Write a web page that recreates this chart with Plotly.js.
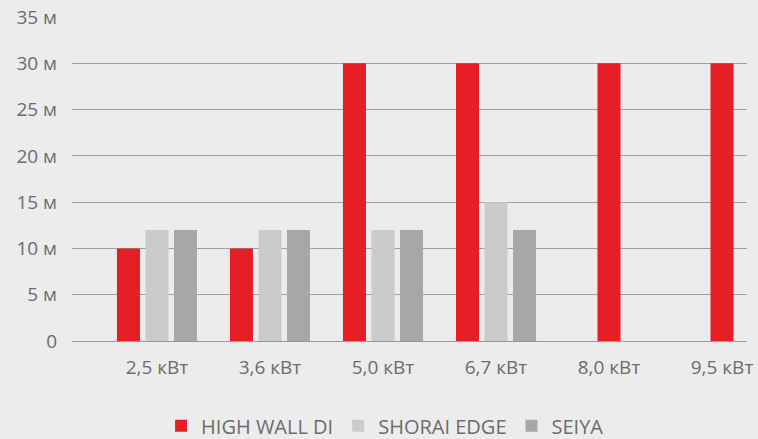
<!DOCTYPE html>
<html>
<head>
<meta charset="utf-8">
<script src="https://cdn.plot.ly/plotly-3.0.1.min.js"></script>
<style>html,body{margin:0;padding:0;background:#ebeceb;}#chart{width:758px;height:439px;}</style>
</head>
<body>
<div id="chart"></div>
<script>
const categories = ["2,5 кВт", "3,6 кВт", "5,0 кВт", "6,7 кВт", "8,0 кВт", "9,5 кВт"];
const highWall = [10, 10, 30, 30, 30, 30];
const shoraiEdge = [12, 12, 12, 15, null, null];
const seiya = [12, 12, 12, 12, null, null];
const yTickVals = [0, 5, 10, 15, 20, 25, 30, 35];
const yTickText = ["0", "5 м", "10 м", "15 м", "20 м", "25 м", "30 м", "35 м"];

const RED = "#e61e26", LIGHT = "#c9cbcd", DARK = "#a6a7a9";

// categories where the other series have values: red bar in left slot; otherwise centered
const hasOthers = categories.map((c, i) => shoraiEdge[i] != null || seiya[i] != null);
const redGroupedX = [], redGroupedY = [], redAloneX = [], redAloneY = [];
categories.forEach((c, i) => {
  if (hasOthers[i]) { redGroupedX.push(c); redGroupedY.push(highWall[i]); }
  else { redAloneX.push(c); redAloneY.push(highWall[i]); }
});

const traces = [
  {type: "bar", name: "HIGH WALL DI", x: redGroupedX, y: redGroupedY, marker: {color: RED},
   offsetgroup: "a", legendgroup: "hw"},
  {type: "bar", name: "SHORAI EDGE", x: categories, y: shoraiEdge, marker: {color: LIGHT},
   offsetgroup: "b"},
  {type: "bar", name: "SEIYA", x: categories, y: seiya, marker: {color: DARK},
   offsetgroup: "c"},
  {type: "bar", name: "HIGH WALL DI", x: redAloneX, y: redAloneY, marker: {color: RED},
   offsetgroup: "b", legendgroup: "hw", showlegend: false}
];

const layout = {
  width: 758, height: 439,
  paper_bgcolor: "#ebeceb", plot_bgcolor: "#ebeceb",
  margin: {l: 72, r: 11, t: 17, b: 98, autoexpand: false},
  barmode: "group", bargap: 0.243, bargroupgap: 0.193,
  font: {family: "Open Sans, sans-serif", color: "#6c6c6c", size: 19},
  xaxis: {
    type: "category", categoryorder: "array", categoryarray: categories,
    range: [-0.752, 5.221], showgrid: false, zeroline: false,
    showline: false, ticks: "", tickfont: {size: 19, color: "#6c6c6c"},
    ticklabelstandoff: 13, fixedrange: true, automargin: false
  },
  yaxis: {
    range: [0, 35], tickvals: yTickVals, ticktext: yTickText,
    showgrid: true, gridcolor: "#a0a0a0", gridwidth: 1,
    zeroline: true, zerolinecolor: "#999999", zerolinewidth: 1,
    showline: false, ticks: "", tickfont: {size: 19, color: "#6c6c6c"},
    ticklabelstandoff: 14, fixedrange: true, automargin: false
  },
  legend: {
    orientation: "h", xref: "container", x: 0.508, xanchor: "center",
    yref: "container", y: 0.03, yanchor: "middle",
    font: {size: 20, color: "#6c6c6c"}, bgcolor: "rgba(0,0,0,0)", traceorder: "normal"
  },
  showlegend: true
};

Plotly.newPlot("chart", traces, layout, {displayModeBar: false, staticPlot: true});
</script>
</body>
</html>
